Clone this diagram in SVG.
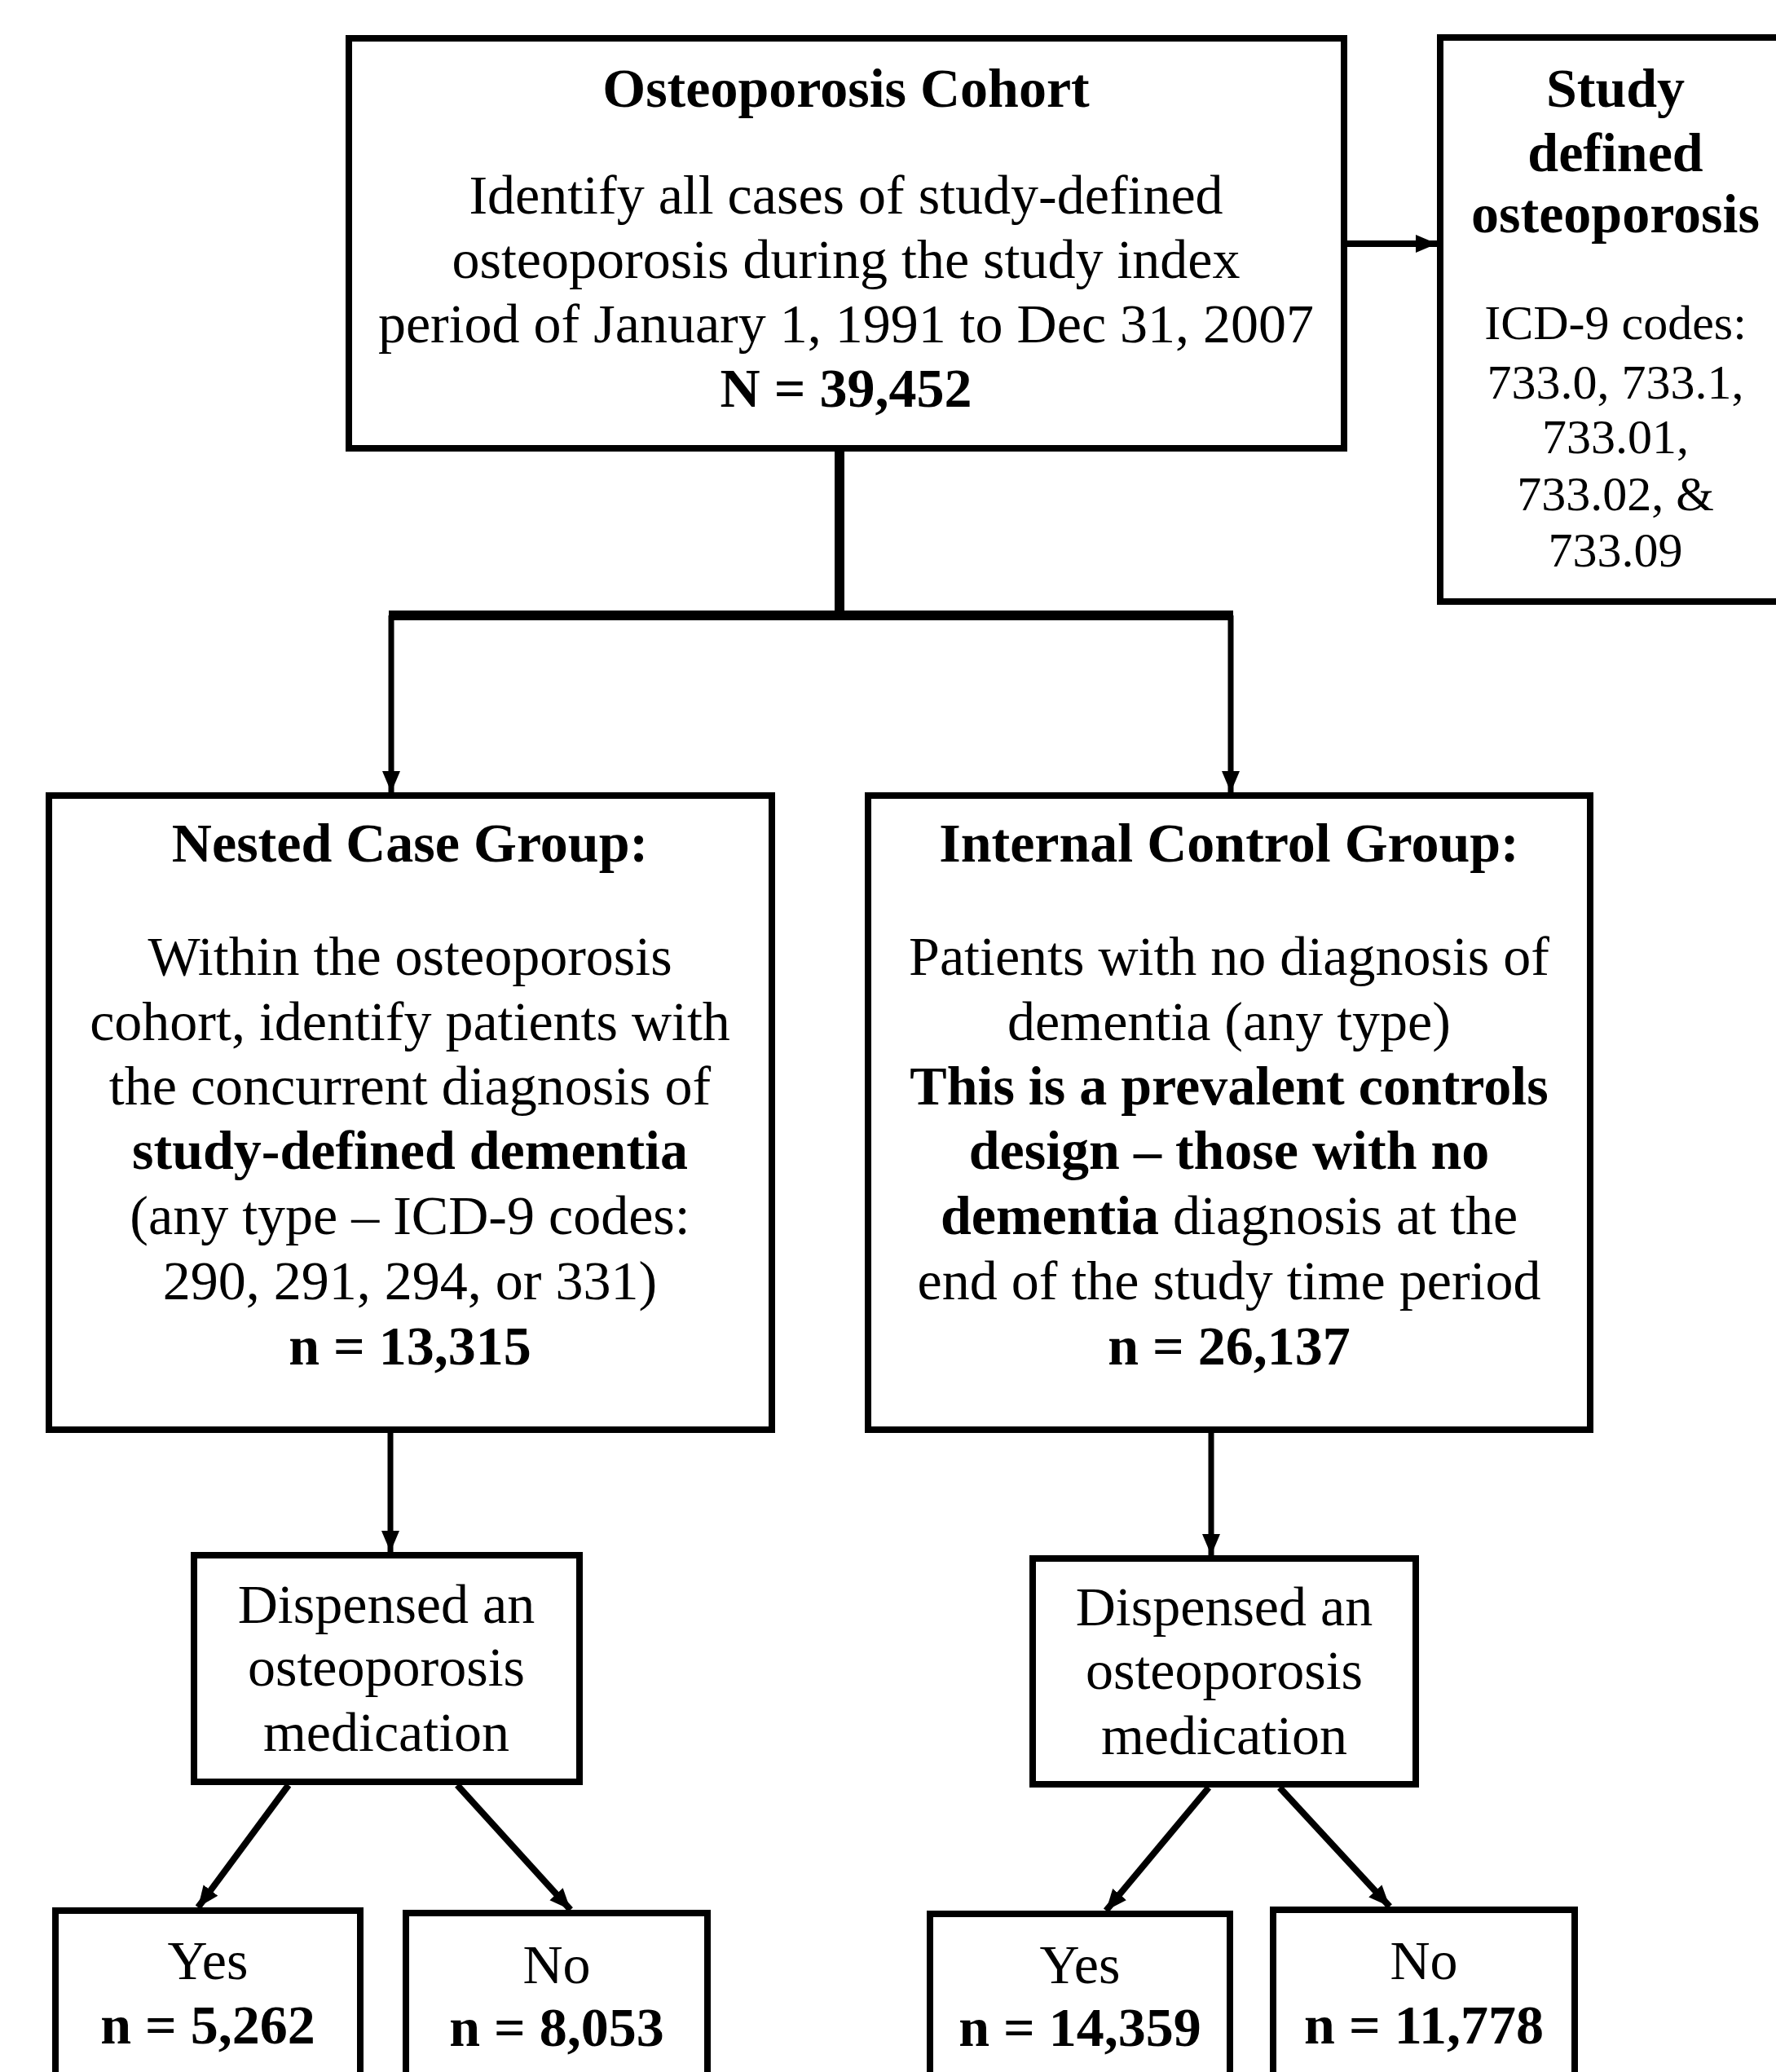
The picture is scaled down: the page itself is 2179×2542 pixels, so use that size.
<svg xmlns="http://www.w3.org/2000/svg" width="2179" height="2542" viewBox="0 0 2179 2542">
<style>
.box{fill:#fff;stroke:#000;stroke-width:8}
.t{font-family:"Liberation Serif","Times New Roman",serif;font-size:68px;fill:#000;text-anchor:middle}
.s{font-size:60px}
.b{font-weight:bold}
.c{fill:none;stroke:#000}
</style>
<defs>
<marker id="ah" markerUnits="userSpaceOnUse" markerWidth="28" markerHeight="24" refX="26" refY="12" orient="auto">
<path d="M0,1 L26,12 L0,23 z" fill="#000"/>
</marker>
</defs>
<rect width="2179" height="2542" fill="#fff"/>
<g id="connectors">
<line class="c" x1="1653" y1="299" x2="1763" y2="299" stroke-width="8" marker-end="url(#ah)"/>
<line class="c" x1="1030" y1="554" x2="1030" y2="755" stroke-width="12"/>
<line class="c" x1="477" y1="755" x2="1513" y2="755" stroke-width="12"/>
<line class="c" x1="480" y1="755" x2="480" y2="972" stroke-width="7" marker-end="url(#ah)"/>
<line class="c" x1="1510" y1="755" x2="1510" y2="972" stroke-width="7" marker-end="url(#ah)"/>
<line class="c" x1="479" y1="1758" x2="479" y2="1904" stroke-width="7" marker-end="url(#ah)"/>
<line class="c" x1="1486" y1="1758" x2="1486" y2="1908" stroke-width="7" marker-end="url(#ah)"/>
<line class="c" x1="354" y1="2190" x2="243" y2="2340" stroke-width="8" marker-end="url(#ah)"/>
<line class="c" x1="561" y1="2190" x2="700" y2="2343" stroke-width="8" marker-end="url(#ah)"/>
<line class="c" x1="1483" y1="2193" x2="1357" y2="2344" stroke-width="8" marker-end="url(#ah)"/>
<line class="c" x1="1570" y1="2193" x2="1705" y2="2339" stroke-width="8" marker-end="url(#ah)"/>
</g>
<g id="cohort">
<rect class="box" x="428" y="47" width="1221" height="503"/>
<text class="t b" x="1038" y="131">Osteoporosis Cohort</text>
<text class="t" x="1038" y="262">Identify all cases of study-defined</text>
<text class="t" x="1038" y="341">osteoporosis during the study index</text>
<text class="t" x="1038" y="420">period of January 1, 1991 to Dec 31, 2007</text>
<text class="t b" x="1038" y="499">N = 39,452</text>
</g>
<g id="definition">
<rect class="box" x="1767" y="46" width="440" height="692"/>
<text class="t b" x="1982" y="131">Study</text>
<text class="t b" x="1982" y="210">defined</text>
<text class="t b" x="1982" y="285">osteoporosis</text>
<text class="t s" x="1982" y="416">ICD-9 codes:</text>
<text class="t s" x="1982" y="489">733.0, 733.1,</text>
<text class="t s" x="1982" y="556">733.01,</text>
<text class="t s" x="1982" y="626">733.02, &amp;</text>
<text class="t s" x="1982" y="695">733.09</text>
</g>
<g id="nested-case">
<rect class="box" x="60" y="976" width="887" height="778"/>
<text class="t b" x="503" y="1057">Nested Case Group:</text>
<text class="t" x="503" y="1196">Within the osteoporosis</text>
<text class="t" x="503" y="1276">cohort, identify patients with</text>
<text class="t" x="503" y="1355">the concurrent diagnosis of</text>
<text class="t b" x="503" y="1434">study-defined dementia</text>
<text class="t" x="503" y="1514">(any type – ICD-9 codes:</text>
<text class="t" x="503" y="1594">290, 291, 294, or 331)</text>
<text class="t b" x="503" y="1674">n = 13,315</text>
</g>
<g id="internal-control">
<rect class="box" x="1065" y="976" width="886" height="778"/>
<text class="t b" x="1508" y="1057">Internal Control Group:</text>
<text class="t" x="1508" y="1196">Patients with no diagnosis of</text>
<text class="t" x="1508" y="1276">dementia (any type)</text>
<text class="t b" x="1508" y="1355">This is a prevalent controls</text>
<text class="t b" x="1508" y="1434">design – those with no</text>
<text class="t" x="1508" y="1514"><tspan class="b">dementia</tspan> diagnosis at the</text>
<text class="t" x="1508" y="1594">end of the study time period</text>
<text class="t b" x="1508" y="1674">n = 26,137</text>
</g>
<g id="case-dispensed">
<rect class="box" x="238" y="1908" width="473" height="278"/>
<text class="t" x="474" y="1991">Dispensed an</text>
<text class="t" x="474" y="2068">osteoporosis</text>
<text class="t" x="474" y="2148">medication</text>
</g>
<g id="control-dispensed">
<rect class="box" x="1267" y="1912" width="470" height="277"/>
<text class="t" x="1502" y="1994">Dispensed an</text>
<text class="t" x="1502" y="2072">osteoporosis</text>
<text class="t" x="1502" y="2152">medication</text>
</g>
<g id="case-yes">
<rect class="box" x="68" y="2344" width="374" height="240"/>
<text class="t" x="255" y="2428">Yes</text>
<text class="t b" x="255" y="2507">n = 5,262</text>
</g>
<g id="case-no">
<rect class="box" x="498" y="2347" width="370" height="240"/>
<text class="t" x="683" y="2433">No</text>
<text class="t b" x="683" y="2510">n = 8,053</text>
</g>
<g id="control-yes">
<rect class="box" x="1141" y="2348" width="368" height="240"/>
<text class="t" x="1325" y="2433">Yes</text>
<text class="t b" x="1325" y="2510">n = 14,359</text>
</g>
<g id="control-no">
<rect class="box" x="1562" y="2343" width="370" height="240"/>
<text class="t" x="1747" y="2428">No</text>
<text class="t b" x="1747" y="2507">n = 11,778</text>
</g>
</svg>
